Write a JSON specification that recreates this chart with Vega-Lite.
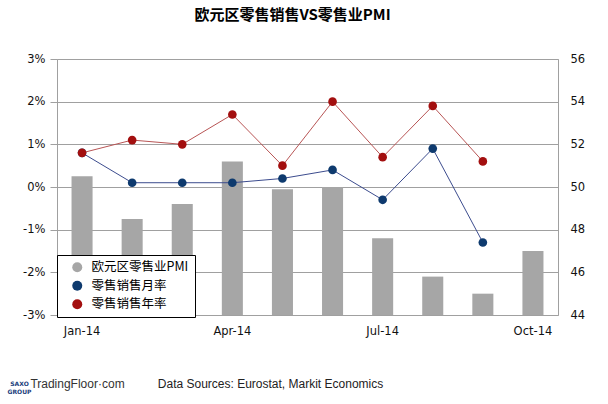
{
  "$schema": "https://vega.github.io/schema/vega-lite/v6.json",
  "description": "Euro area retail sales (MoM, YoY) against the euro area retail PMI, Jan-Oct 2014.",
  "width": 501,
  "height": 256,
  "autosize": {"type": "none"},
  "padding": {"left": 57, "top": 59, "right": 50, "bottom": 89},
  "background": "white",
  "title": {
    "text": "欧元区零售销售VS零售业PMI",
    "font": "Noto Sans CJK SC",
    "fontSize": 15,
    "fontWeight": "bold",
    "color": "black",
    "anchor": "middle",
    "frame": "group",
    "dx": -15,
    "offset": 30
  },
  "datasets": {
    "pmi": [
      {"month": "Jan-14", "pmi": 50.5},
      {"month": "Feb-14", "pmi": 48.5},
      {"month": "Mar-14", "pmi": 49.2},
      {"month": "Apr-14", "pmi": 51.2},
      {"month": "May-14", "pmi": 49.9},
      {"month": "Jun-14", "pmi": 50.0},
      {"month": "Jul-14", "pmi": 47.6},
      {"month": "Aug-14", "pmi": 45.8},
      {"month": "Sep-14", "pmi": 45.0},
      {"month": "Oct-14", "pmi": 47.0}
    ],
    "sales": [
      {"month": "Jan-14", "series": "零售销售月率", "value": 0.8},
      {"month": "Feb-14", "series": "零售销售月率", "value": 0.1},
      {"month": "Mar-14", "series": "零售销售月率", "value": 0.1},
      {"month": "Apr-14", "series": "零售销售月率", "value": 0.1},
      {"month": "May-14", "series": "零售销售月率", "value": 0.2},
      {"month": "Jun-14", "series": "零售销售月率", "value": 0.4},
      {"month": "Jul-14", "series": "零售销售月率", "value": -0.3},
      {"month": "Aug-14", "series": "零售销售月率", "value": 0.9},
      {"month": "Sep-14", "series": "零售销售月率", "value": -1.3},
      {"month": "Jan-14", "series": "零售销售年率", "value": 0.8},
      {"month": "Feb-14", "series": "零售销售年率", "value": 1.1},
      {"month": "Mar-14", "series": "零售销售年率", "value": 1.0},
      {"month": "Apr-14", "series": "零售销售年率", "value": 1.7},
      {"month": "May-14", "series": "零售销售年率", "value": 0.5},
      {"month": "Jun-14", "series": "零售销售年率", "value": 2.0},
      {"month": "Jul-14", "series": "零售销售年率", "value": 0.7},
      {"month": "Aug-14", "series": "零售销售年率", "value": 1.9},
      {"month": "Sep-14", "series": "零售销售年率", "value": 0.6}
    ]
  },
  "encoding": {
    "x": {
      "field": "month",
      "type": "nominal",
      "scale": {
        "domain": ["Jan-14", "Feb-14", "Mar-14", "Apr-14", "May-14", "Jun-14", "Jul-14", "Aug-14", "Sep-14", "Oct-14"],
        "paddingInner": 0.58,
        "paddingOuter": 0.29
      },
      "axis": {
        "title": "Data Sources: Eurostat, Markit Economics",
        "titleX": 213,
        "titleY": 68,
        "titleAlign": "center",
        "titleBaseline": "middle",
        "titleFont": "Liberation Sans",
        "titleFontSize": 12,
        "titleFontWeight": "normal",
        "titleColor": "#222",
        "labelExpr": "indexof(['Jan-14', 'Apr-14', 'Jul-14', 'Oct-14'], datum.value) >= 0 ? datum.value : ''",
        "labelAngle": 0,
        "labelPadding": 10,
        "labelFont": "DejaVu Sans",
        "labelFontSize": 11.5,
        "labelColor": "#111",
        "ticks": false,
        "domain": false,
        "grid": false
      }
    }
  },
  "layer": [
    {
      "data": {"name": "pmi"},
      "mark": {"type": "bar", "color": "#a6a6a6"},
      "encoding": {
        "y": {
          "field": "pmi",
          "type": "quantitative",
          "scale": {"domain": [44, 56], "zero": false, "nice": false},
          "axis": {
            "orient": "right",
            "values": [44, 46, 48, 50, 52, 54, 56],
            "title": ["SAXO", "GROUP"],
            "titleAngle": 0,
            "titleX": -539,
            "titleY": 324,
            "titleAlign": "center",
            "titleBaseline": "middle",
            "titleFont": "DejaVu Sans",
            "titleFontSize": 6,
            "titleFontWeight": "bold",
            "titleColor": "#1a3d7c",
            "titleLineHeight": 8,
            "ticks": false,
            "domain": false,
            "grid": false,
            "labelPadding": 12,
            "labelFont": "DejaVu Sans",
            "labelFontSize": 11.5,
            "labelColor": "#111"
          }
        },
        "y2": {"datum": 44}
      }
    },
    {
      "data": {"name": "sales"},
      "layer": [
        {
          "mark": {"type": "line", "strokeWidth": 1},
          "encoding": {
            "y": {
              "field": "value",
              "type": "quantitative",
              "scale": {"domain": [-3, 3], "nice": false},
              "axis": {
                "orient": "left",
                "values": [-3, -2, -1, 0, 1, 2, 3],
                "labelExpr": "datum.value + '%'",
                "title": "TradingFloor·com",
                "titleAngle": 0,
                "titleX": 20,
                "titleY": 324,
                "titleAlign": "center",
                "titleBaseline": "middle",
                "titleFont": "Liberation Sans",
                "titleFontSize": 12,
                "titleFontWeight": "normal",
                "titleColor": "#333",
                "grid": true,
                "gridColor": "#a0a0a0",
                "gridWidth": 1,
                "ticks": true,
                "tickSize": 7,
                "tickColor": "#a0a0a0",
                "domain": false,
                "labelPadding": 5,
                "labelFont": "DejaVu Sans",
                "labelFontSize": 11.5,
                "labelColor": "#111"
              }
            },
            "color": {
              "field": "series",
              "type": "nominal",
              "scale": {"domain": ["零售销售月率", "零售销售年率"], "range": ["#3c4c8e", "#b85555"]},
              "legend": null
            }
          }
        },
        {
          "mark": {"type": "circle", "size": 75, "opacity": 1},
          "encoding": {
            "y": {"field": "value", "type": "quantitative"},
            "fill": {
              "field": "series",
              "type": "nominal",
              "scale": {
                "domain": ["欧元区零售业PMI", "零售销售月率", "零售销售年率"],
                "range": ["#a6a6a6", "#0e3a6e", "#a30f0f"]
              },
              "legend": {
                "orient": "none",
                "legendX": 0,
                "legendY": 196,
                "title": null,
                "fillColor": "white",
                "strokeColor": "black",
                "padding": 6,
                "symbolOffset": 8,
                "labelOffset": 8,
                "rowPadding": 5.5,
                "labelFont": "Noto Sans CJK SC",
                "labelFontSize": 12.5,
                "labelColor": "black",
                "labelLimit": 400
              }
            }
          }
        }
      ]
    }
  ],
  "resolve": {"scale": {"y": "independent"}},
  "config": {
    "view": {"stroke": "#a0a0a0", "strokeWidth": 1}
  }
}
